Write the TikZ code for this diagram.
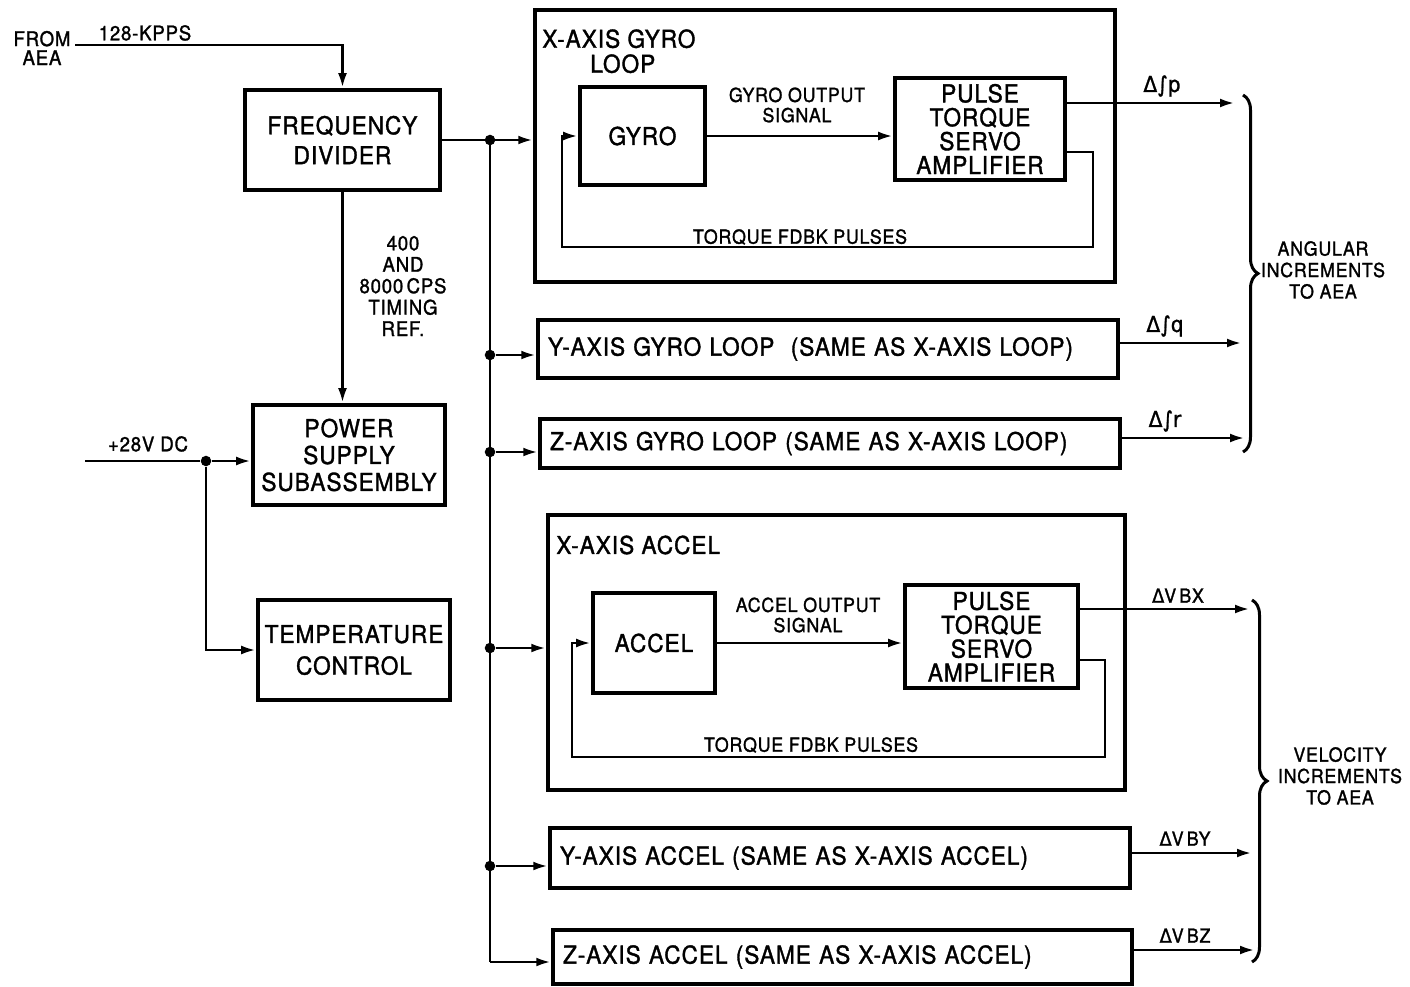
\documentclass[tikz,border=0pt]{standalone}
\usepackage{fontspec}
\setmainfont{TeX Gyre Heros}[FakeStretch=0.92,LetterSpace=4,FakeBold=1.4]
\newfontfamily\symf{DejaVu Sans}[FakeStretch=0.92,FakeBold=1.2]
\usetikzlibrary{arrows.meta,decorations.pathreplacing}
\newcommand{\fsFD}{\fontsize{14}{17}\selectfont}
\newcommand{\fsPS}{\fontsize{14}{15.3}\selectfont}
\newcommand{\fsTC}{\fontsize{14}{18}\selectfont}
\newcommand{\fsPT}{\fontsize{14}{13.6}\selectfont}
\newcommand{\fsTL}{\fontsize{14}{14.2}\selectfont}
\newcommand{\fsSm}{\fontsize{11}{11.5}\selectfont}
\newcommand{\fsDl}{\fontsize{12.5}{12.5}\selectfont}
\newcommand{\fsTm}{\fontsize{11.5}{12.2}\selectfont}
\newcommand{\fsRt}{\fontsize{11}{12.2}\selectfont}
\newcommand{\fsFr}{\fontsize{11.5}{10.8}\selectfont}
\begin{document}
\begin{tikzpicture}[x=0.02cm,y=-0.02cm,
  box/.style={draw, line width=2.1pt, inner sep=0pt, align=center},
  conn/.style={line width=1.6pt},
  arr/.style={conn, -{Latex[length=8.5pt,width=5pt]}},
  jdot/.style={circle, fill, inner sep=0pt, minimum size=6pt},
  lbl/.style={inner sep=0pt, align=center},
  brc/.style={line width=1.7pt, decorate, decoration={brace, amplitude=0.3cm}}]
\useasboundingbox (0,0) rectangle (1410,987);

% ---------- left column ----------
\node[box, minimum width=3.9cm, minimum height=2cm, font=\fsFD] (fd) at (342.5,140) {FREQUENCY\\DIVIDER};
\node[box, minimum width=3.84cm, minimum height=2cm, font=\fsPS] (ps) at (349,455) {POWER\\SUPPLY\\SUBASSEMBLY};
\node[box, minimum width=3.84cm, minimum height=2cm, font=\fsTC] (tc) at (354,650) {TEMPERATURE\\CONTROL};

\node[lbl, font=\fsFr] (from) at (42,48) {FROM\\AEA};
\coordinate (src) at (75,45);
\node[lbl, font=\fsTm, anchor=south] (kpps) at (145,41) {128-KPPS};
\draw[arr] (src) -| (fd.north);

\node[lbl, font=\fsTm] (timing) at (403,286) {400\\AND\\8000\,CPS\\TIMING\\REF.};
\draw[arr] (fd.south) -- (fd.south |- ps.north);

\coordinate (vin) at (85,461);
\node[jdot] (vd) at (206,461) {};
\node[lbl, font=\fsTm, anchor=south] (v28) at (148,452) {+28V DC};
\draw[conn] (vin) -- (vd);
\draw[arr] (vd) -- (ps.west |- vd);
\draw[arr] (vd) |- (tc.west);

% ---------- X gyro loop ----------
\node[box, minimum width=11.6cm, minimum height=5.44cm] (xg) at (825,146) {};
\node[lbl, font=\fsTL, align=left, anchor=north west] (xgt) at (542,29) {X-AXIS GYRO\\\hspace*{0.96cm}LOOP};
\node[box, minimum width=2.5cm, minimum height=1.96cm, font=\fsFD] (gyro) at (642.5,136) {GYRO};
\node[box, minimum width=3.4cm, minimum height=2.04cm, font=\fsPT] (pt1) at (980,129) {PULSE\\TORQUE\\SERVO\\AMPLIFIER};
\draw[arr] (gyro.east) -- (gyro.east -| pt1.west);
\node[lbl, font=\fsSm] (gos) at (797,105) {GYRO OUTPUT\\SIGNAL};
\coordinate (fb1a) at (1093,247);
\coordinate (fb1b) at (562,247);
\draw[arr] ([yshift=-0.46cm]pt1.east) -| (fb1a) -- (fb1b) |- (gyro.west);
\node[lbl, font=\fsSm] (tf1) at (800,237) {TORQUE FDBK PULSES};
\coordinate (p1) at (1235,103);
\draw[arr] (pt1.east |- p1) -- (p1);
\node[lbl, font=\fsDl\symf, anchor=south] (lp) at (1162,97) {Δ∫p};

% ---------- Y, Z gyro ----------
\node[box, minimum width=11.6cm, minimum height=1.16cm, text width=11.2cm, inner xsep=0.2cm, align=left, font=\fsFD] (yg) at (828,349) {Y-AXIS GYRO LOOP\ \ (SAME AS X-AXIS LOOP)};
\node[box, minimum width=11.6cm, minimum height=0.98cm, text width=11.2cm, inner xsep=0.2cm, align=left, font=\fsFD] (zg) at (830,443.5) {Z-AXIS GYRO LOOP (SAME AS X-AXIS LOOP)};
\coordinate (q1) at (1242,343);
\draw[arr] (yg.east |- q1) -- (q1);
\node[lbl, font=\fsDl\symf, anchor=south] (lq) at (1165,337) {Δ∫q};
\coordinate (r1) at (1245,438);
\draw[arr] (zg.east |- r1) -- (r1);
\node[lbl, font=\fsDl\symf, anchor=south] (lr) at (1165,432) {Δ∫r};

\draw[brc] (1243,95) -- (1243,452);
\node[lbl, font=\fsRt] (ang) at (1323,270) {ANGULAR\\INCREMENTS\\TO AEA};

% ---------- X accel ----------
\node[box, minimum width=11.54cm, minimum height=5.5cm] (xa) at (836.5,652.5) {};
\node[lbl, font=\fsTL, anchor=west] (xat) at (556,545) {X-AXIS ACCEL};
\node[box, minimum width=2.44cm, minimum height=2cm, font=\fsFD] (acc) at (654,643) {ACCEL};
\node[box, minimum width=3.46cm, minimum height=2.06cm, font=\fsPT] (pt2) at (991.5,636.5) {PULSE\\TORQUE\\SERVO\\AMPLIFIER};
\draw[arr] (acc.east) -- (acc.east -| pt2.west);
\node[lbl, font=\fsSm] (aos) at (808,615) {ACCEL OUTPUT\\SIGNAL};
\coordinate (fb2a) at (1105,757);
\coordinate (fb2b) at (572,757);
\draw[arr] ([yshift=-0.47cm]pt2.east) -| (fb2a) -- (fb2b) |- (acc.west);
\node[lbl, font=\fsSm] (tf2) at (811,745) {TORQUE FDBK PULSES};
\coordinate (vx) at (1250,609);
\draw[arr] (pt2.east |- vx) -- (vx);
\node[lbl, font=\fsSm, anchor=south] (lvx) at (1178,603) {{\symf Δ}V\,BX};

% ---------- Y, Z accel ----------
\node[box, minimum width=11.6cm, minimum height=1.2cm, text width=11.2cm, inner xsep=0.2cm, align=left, font=\fsFD] (ya) at (840,858) {Y-AXIS ACCEL (SAME AS X-AXIS ACCEL)};
\node[box, minimum width=11.58cm, minimum height=1.08cm, text width=11.18cm, inner xsep=0.2cm, align=left, font=\fsFD] (za) at (842.5,957) {Z-AXIS ACCEL (SAME AS X-AXIS ACCEL)};
\coordinate (vy) at (1252,853);
\draw[arr] (ya.east |- vy) -- (vy);
\node[lbl, font=\fsSm, anchor=south] (lvy) at (1185,846) {{\symf Δ}V\,BY};
\coordinate (vz) at (1255,950);
\draw[arr] (za.east |- vz) -- (vz);
\node[lbl, font=\fsSm, anchor=south] (lvz) at (1185,943) {{\symf Δ}V\,BZ};

\draw[brc] (1252,600) -- (1252,962);
\node[lbl, font=\fsRt] (vel) at (1340,776) {VELOCITY\\INCREMENTS\\TO AEA};

% ---------- distribution bus ----------
\node[jdot] (b0) at (490,140) {};
\node[jdot] (b1) at (490,355) {};
\node[jdot] (b2) at (490,452) {};
\node[jdot] (b3) at (490,648) {};
\node[jdot] (b4) at (490,866) {};
\coordinate (b5) at (490,962);
\draw[arr] (fd.east) -- (xg.west |- fd.east);
\draw[conn] (b0.center) -- (b5);
\draw[arr] (b1) -- (yg.west |- b1);
\draw[arr] (b2) -- (zg.west |- b2);
\draw[arr] (b3) -- (xa.west |- b3);
\draw[arr] (b4) -- (ya.west |- b4);
\draw[arr] (b5) -- (za.west |- b5);
\end{tikzpicture}
\end{document}
